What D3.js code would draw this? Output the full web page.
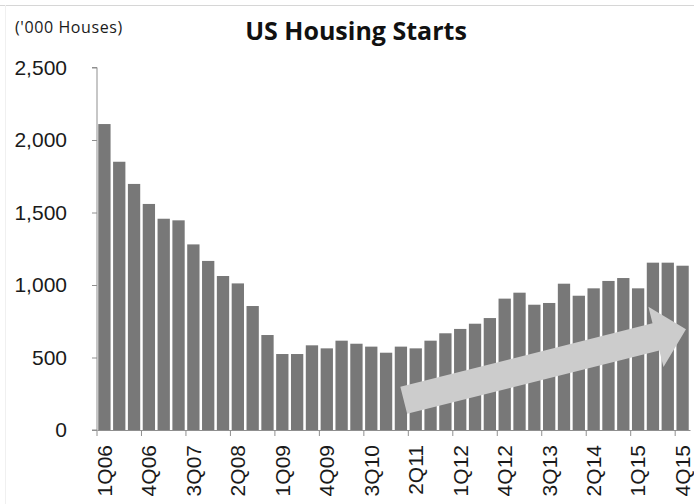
<!DOCTYPE html>
<html>
<head>
<meta charset="utf-8">
<script src="https://cdn.jsdelivr.net/npm/d3@7"></script>
<style>
  body { margin: 0; background: #fff; }
  svg { display: block; font-family: "Open Sans", sans-serif; }
  .axis path, .axis line { stroke: #8f8f8f; }
  .axis text { fill: #1a1a1a; }
</style>
</head>
<body>
<svg class="chart"></svg>
<script>
// quarters 1Q06 .. 4Q15
var quarters = [];
for (var yr = 6; yr <= 15; yr++) {
    for (var q = 1; q <= 4; q++) {
        quarters.push(q + "Q" + (yr < 10 ? "0" + yr : yr));
    }
}
var starts = [2110, 1850, 1697, 1559, 1457, 1446, 1280, 1166, 1062, 1011,
              855, 655, 524, 524, 584, 563, 616, 595, 575, 533,
              575, 563, 616, 667, 697, 733, 772, 906, 947, 864,
              876, 1009, 926, 977, 1028, 1048, 977, 1154, 1154, 1133];
var tickLabels = ["1Q06", "4Q06", "3Q07", "2Q08", "1Q09", "4Q09", "3Q10",
                  "2Q11", "1Q12", "4Q12", "3Q13", "2Q14", "1Q15", "4Q15"];
var yTicks = [0, 500, 1000, 1500, 2000, 2500];
// trend arrow: from (quarter index, value) to (quarter index, value)
var arrowFrom = [20.69, 205];
var arrowTo = [39.73, 694];

var width = 694, height = 504;
var svg = d3.select(".chart").attr("width", width).attr("height", height);

// light frame at top / left
svg.append("line").attr("x1", 0).attr("x2", width).attr("y1", 5.5).attr("y2", 5.5)
    .attr("stroke", "#d6d6d6");
svg.append("line").attr("x1", 5.5).attr("x2", 5.5).attr("y1", 5).attr("y2", height)
    .attr("stroke", "#f0f0f0");

var x = d3.scaleBand()
    .domain(quarters)
    .range([97, 690])
    .paddingInner(0.17)
    .paddingOuter(0.085);
var step = x.step();

var y = d3.scaleLinear()
    .domain([0, 2500])
    .range([430, 67.5]);

svg.selectAll("rect.bar")
    .data(starts)
    .enter().append("rect")
    .attr("class", "bar")
    .attr("x", function(d, i) { return x(quarters[i]); })
    .attr("y", function(d) { return y(d); })
    .attr("width", x.bandwidth())
    .attr("height", function(d) { return y(0) - y(d); })
    .attr("fill", "#787878");

// arrow
var qx = d3.scaleLinear().domain([0, quarters.length]).range(x.range());
var x0 = qx(arrowFrom[0]), y0 = y(arrowFrom[1]);
var x1 = qx(arrowTo[0]), y1 = y(arrowTo[1]);
var len = Math.hypot(x1 - x0, y1 - y0);
var ang = Math.atan2(y1 - y0, x1 - x0) * 180 / Math.PI;
var sw = 14, hw = 31, hl = 31;
svg.append("path")
    .attr("transform", "translate(" + x0 + "," + y0 + ") rotate(" + ang + ")")
    .attr("d", "M0," + (-sw) + "L" + (len - hl) + "," + (-sw) + "L" + (len - hl) + "," + (-hw) +
               "L" + len + ",0L" + (len - hl) + "," + hw + "L" + (len - hl) + "," + sw +
               "L0," + sw + "Z")
    .attr("fill", "#cccccc");

// axes
var yAxis = d3.axisLeft(y)
    .tickValues(yTicks)
    .tickSize(5)
    .tickPadding(25)
    .tickFormat(d3.format(","));
svg.append("g")
    .attr("class", "y axis")
    .attr("transform", "translate(97,0)")
    .call(yAxis)
    .call(function(g) {
        g.select(".domain").attr("d", "M-5,67.5H0V430H-5");
        g.selectAll("text").style("font-size", "21px");
    });

var xAxis = d3.axisBottom(x)
    .tickValues(tickLabels)
    .tickSize(6)
    .tickSizeOuter(0);
svg.append("g")
    .attr("class", "x axis")
    .attr("transform", "translate(0,430)")
    .call(xAxis)
    .call(function(g) {
        g.selectAll(".tick line")
            .attr("x1", -step / 2).attr("x2", -step / 2);
        g.selectAll("text")
            .style("font-size", "21px")
            .attr("text-anchor", "end")
            .attr("transform", "rotate(-90)")
            .attr("x", -15)
            .attr("y", 0)
            .attr("dy", "0.35em");
    });

// titles
svg.append("text")
    .attr("x", 356).attr("y", 40)
    .attr("text-anchor", "middle")
    .style("font-size", "25px")
    .style("font-weight", "bold")
    .attr("fill", "#111")
    .text("US Housing Starts");
svg.append("text")
    .attr("x", 15).attr("y", 33)
    .style("font-size", "16px")
    .style("letter-spacing", "0.6px")
    .attr("fill", "#1a1a1a")
    .text("('000 Houses)");
</script>
</body>
</html>
